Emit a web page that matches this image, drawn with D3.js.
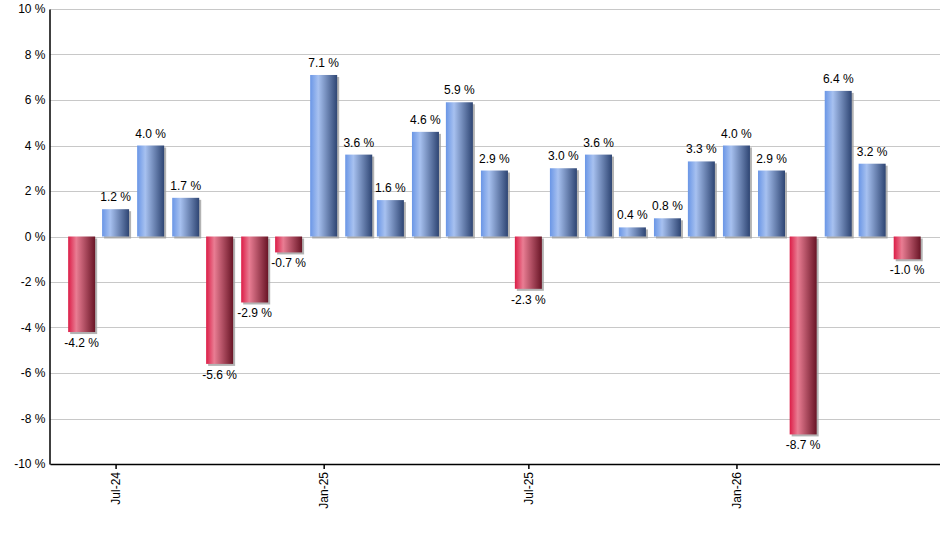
<!DOCTYPE html>
<html>
<head>
<meta charset="utf-8">
<script src="https://cdn.jsdelivr.net/npm/d3@7"></script>
<style>
  html, body { margin: 0; padding: 0; background: #fff; }
  svg { display: block; font-family: Arial, "Liberation Sans", sans-serif; }
</style>
</head>
<body>
<svg id="chart" width="940" height="550"></svg>
<script>
// ---- data ----
const months = ["2024-06","2024-07","2024-08","2024-09","2024-10","2024-11","2024-12",
  "2025-01","2025-02","2025-03","2025-04","2025-05","2025-06","2025-07","2025-08","2025-09",
  "2025-10","2025-11","2025-12","2026-01","2026-02","2026-03","2026-04","2026-05","2026-06"];
const values = [-4.2, 1.2, 4.0, 1.7, -5.6, -2.9, -0.7, 7.1, 3.6, 1.6, 4.6, 5.9, 2.9, -2.3,
  3.0, 3.6, 0.4, 0.8, 3.3, 4.0, 2.9, -8.7, 6.4, 3.2, -1.0];
const yTicks = [-10, -8, -6, -4, -2, 0, 2, 4, 6, 8, 10];
const xTickLabels = ["2024-07", "2025-01", "2025-07", "2026-01"];

const parse = d3.timeParse("%Y-%m");
const data = months.map((m, i) => ({ date: parse(m), value: values[i] }));

const svg = d3.select("#chart");
const margin = { left: 50, right: 0, top: 9, bottom: 86 };
const W = 940, H = 550;

const x = d3.scaleTime()
  .domain([d3.timeDay.offset(data[0].date, -28), d3.timeDay.offset(data[data.length - 1].date, 29)])
  .range([margin.left, W - margin.right]);
const y = d3.scaleLinear().domain([-10, 10]).range([H - margin.bottom, margin.top]);

const defs = svg.append("defs");
function grad(id, stops) {
  const g = defs.append("linearGradient").attr("id", id)
    .attr("x1", "0%").attr("x2", "100%").attr("y1", "0%").attr("y2", "0%");
  stops.forEach(s => g.append("stop").attr("offset", s[0]).attr("stop-color", s[1]));
}
grad("gBlue", [["0%", "#6a96e6"], ["30%", "#a7c1f0"], ["100%", "#2e4573"]]);
grad("gRed", [["0%", "#dc1d47"], ["30%", "#e97d93"], ["100%", "#691526"]]);

// gridlines
svg.append("g").selectAll("line").data(yTicks).join("line")
  .attr("x1", margin.left).attr("x2", W)
  .attr("y1", d => Math.round(y(d)) + 0.5).attr("y2", d => Math.round(y(d)) + 0.5)
  .attr("stroke", "#c8c8c8").attr("stroke-width", 1);

// bars
const step = x(parse("2024-08")) - x(parse("2024-07"));
const bw = Math.round(step * 0.78);
const bars = svg.append("g");
bars.selectAll("rect.shadow").data(data).join("rect").attr("class", "shadow")
  .attr("x", d => x(d.date) - bw / 2 + 2)
  .attr("y", d => Math.min(y(d.value), y(0)) + 2)
  .attr("width", bw)
  .attr("height", d => Math.abs(y(d.value) - y(0)))
  .attr("fill", "#a0a0a0").attr("opacity", 0.8);
bars.selectAll("rect.bar").data(data).join("rect").attr("class", "bar")
  .attr("x", d => x(d.date) - bw / 2)
  .attr("y", d => Math.min(y(d.value), y(0)))
  .attr("width", bw)
  .attr("height", d => Math.abs(y(d.value) - y(0)))
  .attr("fill", d => d.value >= 0 ? "url(#gBlue)" : "url(#gRed)");

// value labels
svg.append("g").selectAll("text").data(data).join("text")
  .attr("x", d => x(d.date))
  .attr("y", d => d.value >= 0 ? y(d.value) - 8 : y(d.value) + 15)
  .attr("text-anchor", "middle")
  .attr("font-size", 12).attr("fill", "#000")
  .text(d => d.value.toFixed(1) + " %");

// y axis
const yAxis = svg.append("g").attr("transform", `translate(${margin.left - 0.5},0)`)
  .call(d3.axisLeft(y).tickValues(yTicks).tickSize(0).tickPadding(4).tickFormat(d => String(d) + " %"));
yAxis.select(".domain").attr("stroke", "#000").attr("stroke-width", 1.5);
yAxis.selectAll("text").attr("font-size", 12).attr("fill", "#000").attr("font-family", "Arial, 'Liberation Sans', sans-serif");

// x axis
const xAxis = svg.append("g").attr("transform", `translate(0,${y(-10)})`)
  .call(d3.axisBottom(x).tickValues(xTickLabels.map(parse)).tickSize(5).tickSizeOuter(0)
    .tickFormat(d3.timeFormat("%b-%y")));
xAxis.select(".domain").attr("stroke", "#000").attr("stroke-width", 1.5);
xAxis.selectAll(".tick line").attr("stroke", "#000").attr("stroke-width", 1.5);
xAxis.selectAll("text")
  .attr("font-size", 12).attr("fill", "#000").attr("font-family", "Arial, 'Liberation Sans', sans-serif")
  .attr("text-anchor", "end")
  .attr("transform", "rotate(-90)")
  .attr("x", -8).attr("y", 0).attr("dy", "0.35em");
</script>
</body>
</html>
